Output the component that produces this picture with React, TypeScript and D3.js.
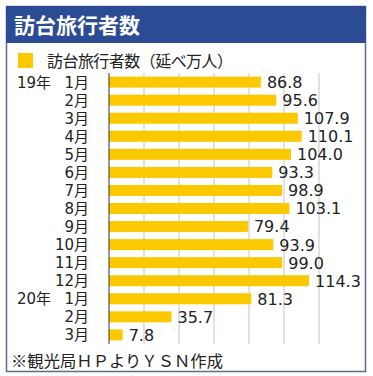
import React from 'react';
import * as d3 from 'd3';

const months = ['1月', '2月', '3月', '4月', '5月', '6月', '7月', '8月', '9月', '10月', '11月', '12月', '1月', '2月', '3月'];
const years = ['19年', '', '', '', '', '', '', '', '', '', '', '', '20年', '', ''];
const visitors = [86.8, 95.6, 107.9, 110.1, 104.0, 93.3, 98.9, 103.1, 79.4, 93.9, 99.0, 114.3, 81.3, 35.7, 7.8];
const gridTicks = [20, 40, 60, 80, 100, 120];

const title = '訪台旅行者数';
const legendLabel = '訪台旅行者数（延べ万人）';
const source = '※観光局ＨＰよりＹＳＮ作成';

const W = 373;
const H = 376;
const FONT = '"Noto Sans CJK JP", "Noto Sans", sans-serif';
// wider digits, like the original's gothic face
const NUM_FONT = '"DejaVu Sans", "Noto Sans CJK JP", sans-serif';

export default function App() {
  const ids = months.map((_, i) => i);

  const x = d3.scaleLinear().domain([0, 120]).range([109, 319]);
  const y = d3.scaleBand<number>().domain(ids).range([73, 344]).paddingInner(0.39).paddingOuter(0.2);

  return (
    <svg width={W} height={H} style={{ position: 'absolute', left: 0, top: 0 }} fontFamily={FONT}>
      <rect x={0} y={0} width={W} height={H} fill="#fff" />
      {/* frame */}
      <rect x={6.5} y={6.5} width={359} height={365} fill="#fff" stroke="#5b6b8c" strokeWidth={1.5} />
      <rect x={6} y={6} width={360} height={37} fill="#2b4c95" />
      <text x={14} y={33} fill="#fff" fontSize={21} fontWeight="bold">{title}</text>

      {/* legend */}
      <rect x={18} y={53} width={15} height={15} fill="#fcc800" />
      <text x={47} y={67} fontSize={16} fill="#222" textLength={186} lengthAdjust="spacing">{legendLabel}</text>

      {/* grid */}
      {gridTicks.map((t) => (
        <line key={t} x1={x(t)} x2={x(t)} y1={73} y2={344} stroke="#c4c4c4" strokeWidth={1} />
      ))}

      {/* bars */}
      {ids.map((i) => (
        <rect key={i} x={x(0)} y={y(i)!} width={x(visitors[i]) - x(0)} height={y.bandwidth()} fill="#fcc800" />
      ))}

      <line x1={x(0)} x2={x(0)} y1={73} y2={344} stroke="#333" strokeWidth={1} />

      {/* category labels */}
      {ids.map((i) => {
        const cy = y(i)! + y.bandwidth() / 2;
        return (
          <g key={i} fontSize={15} fill="#222" fontFamily={NUM_FONT}>
            {years[i] && (
              <text x={17} y={cy} dy="0.36em">{years[i]}</text>
            )}
            <text x={89} y={cy} dy="0.36em" textAnchor="end">{months[i]}</text>
            <text x={x(visitors[i]) + 6} y={cy} dy="0.37em" fontSize={16}>
              {visitors[i].toFixed(1)}
            </text>
          </g>
        );
      })}

      <text x={11} y={367} fontSize={16.3} fill="#222" textLength={212} lengthAdjust="spacing">{source}</text>
    </svg>
  );
}
